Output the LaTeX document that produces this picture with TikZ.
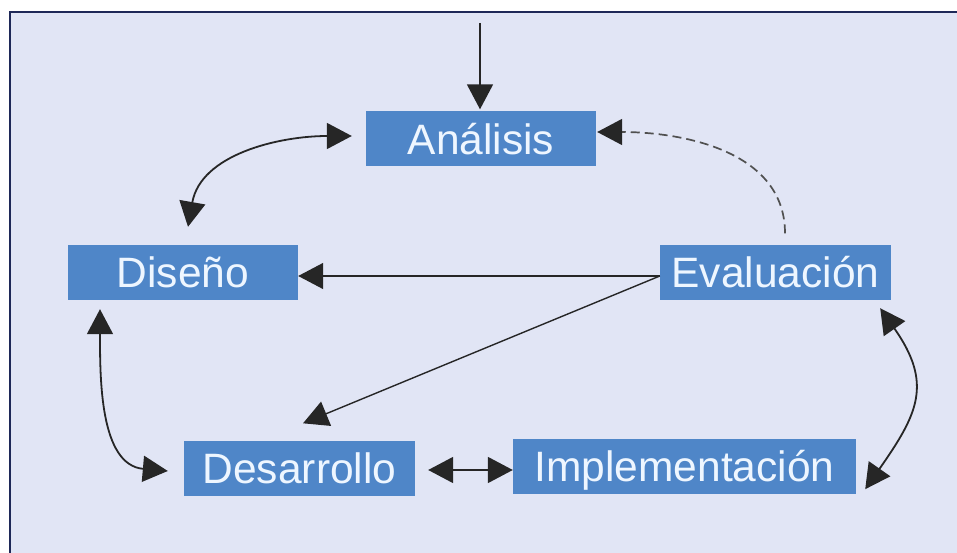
\documentclass[tikz,border=0pt]{standalone}
\usepackage{fontspec}
\setmainfont{Liberation Sans}
\usetikzlibrary{arrows.meta}
\definecolor{bg}{HTML}{E1E5F5}
\definecolor{framecol}{HTML}{1E2858}
\definecolor{boxblue}{HTML}{4F86C8}
\definecolor{txtcol}{HTML}{EEF6FF}
\definecolor{arr}{HTML}{262626}
\definecolor{dashcol}{HTML}{505050}
\begin{document}
\begin{tikzpicture}[x=1pt,y=1pt,
  box/.style={fill=boxblue, text=txtcol, inner sep=0pt,
    font=\fontsize{42.5}{45}\selectfont, text height=30.5pt, text depth=0pt,
    minimum height=55pt},
  conn/.style={draw=arr, line width=1.8pt},
  thinconn/.style={draw=arr, line width=1.4pt},
  dashconn/.style={draw=dashcol, line width=1.7pt, dash pattern=on 9pt off 5pt},
  tip/.style={-{Triangle[length=25pt,width=26pt,color=arr]}},
  tips/.style={{Triangle[length=25pt,width=26pt,color=arr]}-{Triangle[length=25pt,width=26pt,color=arr]}}]
\useasboundingbox (0,0) rectangle (957,552);
\clip (0,0) rectangle (957,552);
\fill[white] (0,0) rectangle (957,552);
\fill[bg] (10,-10) rectangle (970,540);
\draw[framecol, line width=2.2pt] (10,-10) -- (10,540) -- (970,540);

\node[box, minimum width=230pt] (ana) at (481,413) {Análisis};
\node[box, minimum width=230pt] (dis) at (183,279.5) {Diseño};
\node[box, minimum width=231pt] (eva) at (775.5,279.5) {Evaluación};
\node[box, minimum width=231pt] (des) at (299.5,84) {Desarrollo};
\node[box, minimum width=343pt] (imp) at (684.5,85.5) {Implementación};

\coordinate (start) at (480,529);
\draw[conn, tip] (start) -- ([xshift=-1pt,yshift=2pt]ana.north);

\draw[conn, tips] ([xshift=-14pt,yshift=3pt]ana.west) to[out=180,in=80] ([xshift=5pt,yshift=18pt]dis.north);

\draw[dashconn, tip] ([xshift=9.5pt,yshift=11.5pt]eva.north) to[out=90,in=0] ([xshift=1pt,yshift=7pt]ana.east);

\draw[thinconn, tip] ([yshift=-3.5pt]eva.west) -- ([yshift=-3.5pt]dis.east);
\draw[thinconn, tip] ([yshift=-3.5pt]eva.west) -- ([xshift=3.5pt,yshift=17pt]des.north);

\draw[conn, tips] ([xshift=-83pt,yshift=-9pt]dis.south) to[out=-90,in=175] ([xshift=-16pt,yshift=-3pt]des.west);

\draw[conn, tips] ([xshift=13pt,yshift=-2pt]des.east) -- ([yshift=-3.5pt]imp.west);

\draw[conn, tips] ([xshift=-11pt,yshift=-8pt]eva.south east) to[out=-55,in=55,looseness=1.3] ([xshift=9pt,yshift=5pt]imp.south east);
\end{tikzpicture}
\end{document}
